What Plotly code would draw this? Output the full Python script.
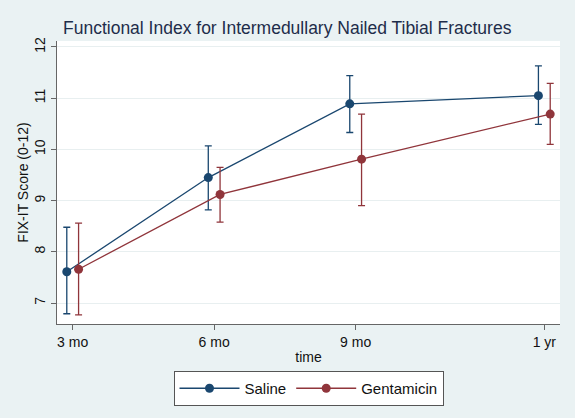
import plotly.graph_objects as go

# Data (x in weeks: 3 mo, 6 mo, 9 mo, 1 yr)
time_weeks = [12, 24, 36, 52]
tick_labels = ["3 mo", "6 mo", "9 mo", "1 yr"]
saline_mean = [7.61, 9.45, 10.89, 11.05]
saline_upper = [8.48, 10.07, 11.44, 11.63]
saline_lower = [6.79, 8.82, 10.33, 10.49]
gent_mean = [7.66, 9.12, 9.81, 10.69]
gent_upper = [8.56, 9.65, 10.69, 11.29]
gent_lower = [6.77, 8.58, 8.90, 10.10]
jitter = 0.5

BG = "#eaf2f3"
NAVY = "#1a476f"
MAROON = "#90353b"
FONT = "Liberation Sans, Arial, Helvetica, sans-serif"

def trace(name, means, upper, lower, color, shift):
    return go.Scatter(
        x=[t + shift for t in time_weeks],
        y=means,
        name=name,
        mode="lines+markers",
        line=dict(color=color, width=1.3),
        marker=dict(color=color, size=9),
        error_y=dict(
            type="data",
            symmetric=False,
            array=[u - m for u, m in zip(upper, means)],
            arrayminus=[m - l for m, l in zip(means, lower)],
            color=color,
            thickness=1.3,
            width=3.5,
        ),
    )

fig = go.Figure()
fig.add_trace(trace("Saline", saline_mean, saline_upper, saline_lower, NAVY, -jitter))
fig.add_trace(trace("Gentamicin", gent_mean, gent_upper, gent_lower, MAROON, jitter))

fig.update_layout(
    width=575,
    height=418,
    paper_bgcolor=BG,
    plot_bgcolor="white",
    font=dict(family=FONT, size=14, color="#111111"),
    margin=dict(l=57, r=15, t=41, b=94),
    title=dict(
        text="Functional Index for Intermedullary Nailed Tibial Fractures",
        x=63 / 575,
        xanchor="left",
        xref="container",
        y=1 - 28 / 418,
        yref="container",
        yanchor="middle",
        font=dict(family=FONT, size=17.5, color="#1e2d4a"),
    ),
    showlegend=True,
    legend=dict(
        orientation="h",
        x=0.5,
        xanchor="center",
        y=-47 / 283,
        yanchor="top",
        bgcolor="white",
        bordercolor="#555555",
        borderwidth=1,
        font=dict(family=FONT, size=15, color="#111111"),
        itemwidth=60,
        traceorder="normal",
    ),
    xaxis=dict(
        range=[10.67, 53.33],
        tickmode="array",
        tickvals=time_weeks,
        ticktext=tick_labels,
        showgrid=False,
        zeroline=False,
        showline=True,
        linecolor="#666666",
        linewidth=1,
        ticks="outside",
        ticklen=5,
        tickcolor="#666666",
        title=dict(text="time", standoff=3, font=dict(size=14)),
    ),
    yaxis=dict(
        range=[6.59, 12.117],
        tickmode="array",
        tickvals=[7, 8, 9, 10, 11, 12],
        tickangle=-90,
        showgrid=True,
        gridcolor="#e8eff0",
        gridwidth=1,
        zeroline=False,
        showline=True,
        linecolor="#666666",
        linewidth=1,
        ticks="outside",
        ticklen=5,
        tickcolor="#666666",
        title=dict(text="FIX-IT Score (0-12)", standoff=0, font=dict(size=14)),
    ),
)

fig.write_html(
    "out.html",
    config={"displayModeBar": False},
    post_script="document.body.style.margin='0';document.body.style.background='" + BG + "';",
)
